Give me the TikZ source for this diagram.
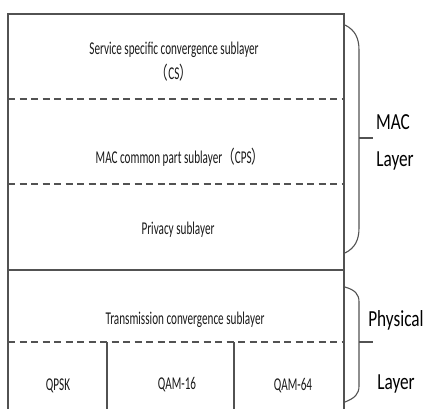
\documentclass[tikz,border=0pt]{standalone}
\usepackage{fontspec}
\newfontfamily\smallf[FakeStretch=0.62]{Carlito}
\newfontfamily\bigf[FakeStretch=0.75]{Carlito}
\newfontfamily\cjkf[FakeStretch=0.7]{Noto Sans CJK SC}
\newcommand{\lp}{{\cjkf （}}
\newcommand{\rp}{{\cjkf ）}}
\tikzset{
  frame/.style={draw=black!68, line width=1.1pt},
  dashline/.style={draw=black!68, line width=1.3pt, dash pattern=on 7pt off 4.5pt},
  brace/.style={draw=black!68, line width=1.1pt},
  lbl/.style={font=\smallf\fontsize{18}{20}\selectfont, text=black!90, inner sep=0pt},
  side/.style={font=\bigf\fontsize{23}{26}\selectfont, text=black, inner sep=0pt},
}
\begin{document}
\begin{tikzpicture}[x=1pt,y=-1pt]
\useasboundingbox (0,0) rectangle (424,408);
% outer box
\coordinate (tl) at (8,14);
\coordinate (tr) at (344,14);
\coordinate (ml) at (8,270);
\coordinate (mr) at (344,270);
\coordinate (bl) at (8,412);
\coordinate (br) at (344,412);
\draw[frame] (bl) -- (tl) -- (tr) -- (br);
\draw[frame] (ml) -- (mr);
% dashed separators
\coordinate (d1l) at (8,99);  \coordinate (d1r) at (344,99);
\coordinate (d2l) at (8,184); \coordinate (d2r) at (344,184);
\coordinate (d3l) at (8,342); \coordinate (d3r) at (344,342);
\draw[dashline] (d1l) -- (d1r);
\draw[dashline] (d2l) -- (d2r);
\draw[dashline] (d3l) -- (d3r);
% vertical dividers
\coordinate (v1t) at (107,342); \coordinate (v1b) at (107,412);
\coordinate (v2t) at (234,342); \coordinate (v2b) at (234,412);
\draw[frame] (v1t) -- (v1b);
\draw[frame] (v2t) -- (v2b);
% texts
\node[lbl] (cs1) at (174,50) {Service specific convergence sublayer};
\node[lbl] (cs2) at (174,73) {\lp CS\rp};
\node[lbl] (cps) at (180,157) {MAC common part sublayer\lp CPS\rp};
\node[lbl] (priv) at (178,230) {Privacy sublayer};
\node[lbl] (tcs) at (185,320) {Transmission convergence sublayer};
\node[lbl] (qpsk) at (58,386) {QPSK};
\node[lbl] (q16) at (177,385) {QAM-16};
\node[lbl] (q64) at (293,386) {QAM-64};
% braces
\draw[brace] (345,25) .. controls (355,30) and (359,38) .. (359,50) -- (359,228)
  .. controls (359,240) and (355,248) .. (345,253);
\coordinate (t1a) at (359,138); \coordinate (t1b) at (373,138);
\draw[brace] (t1a) -- (t1b);
\draw[brace] (345,287) .. controls (355,290) and (359,294) .. (359,302) -- (359,386)
  .. controls (359,394) and (355,398) .. (345,402);
\coordinate (t2a) at (359,342); \coordinate (t2b) at (373,342);
\draw[brace] (t2a) -- (t2b);
\node[side] (mac1) at (393,122) {MAC};
\node[side] (mac2) at (395,161) {Layer};
\node[side] (phy1) at (396,320) {Physical};
\node[side] (phy2) at (396,384) {Layer};
\end{tikzpicture}
\end{document}
